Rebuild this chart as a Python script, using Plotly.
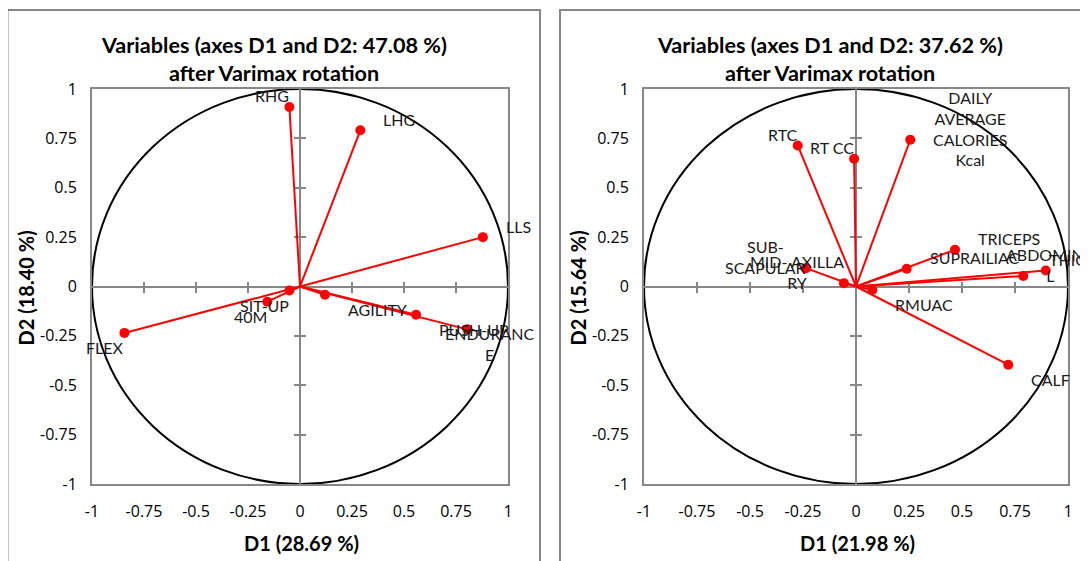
import plotly.graph_objects as go

# ---------------- data ----------------
left_vars = ["RHG", "LHG", "LLS", "FLEX", "SIT-UP", "40M", "AGILITY", "PUSH-UP", "ENDURANCE"]
left_d1 = [-0.051, 0.290, 0.879, -0.844, -0.051, -0.157, 0.120, 0.558, 0.805]
left_d2 = [0.909, 0.791, 0.250, -0.235, -0.020, -0.077, -0.042, -0.143, -0.217]
left_title = ["Variables (axes D1 and D2: 47.08 %)", "after Varimax rotation"]
left_xtitle = "D1 (28.69 %)"
left_ytitle = "D2 (18.40 %)"

right_vars = ["RTC", "RT CC", "DAILY AVERAGE CALORIES Kcal", "SUB-SCAPULAR", "MID-AXILLARY",
              "RMUAC", "SUPRAILIAC", "TRICEPS", "ABDOMINAL", "THIGH", "CALF"]
right_d1 = [-0.275, -0.009, 0.256, -0.236, -0.057, 0.077, 0.239, 0.467, 0.789, 0.895, 0.718]
right_d2 = [0.714, 0.647, 0.743, 0.093, 0.017, -0.017, 0.090, 0.186, 0.053, 0.081, -0.396]
right_title = ["Variables (axes D1 and D2: 37.62 %)", "after Varimax rotation"]
right_xtitle = "D1 (21.98 %)"
right_ytitle = "D2 (15.64 %)"

tick_vals = [-1, -0.75, -0.5, -0.25, 0, 0.25, 0.5, 0.75, 1]
tick_text = ["-1", "-0.75", "-0.5", "-0.25", "0", "0.25", "0.5", "0.75", "1"]
center_ticks = [-0.75, -0.5, -0.25, 0.25, 0.5, 0.75]

# label wrapping as in the original chart
label_wrap = {
    "ENDURANCE": "ENDURANC<br>E",
    "DAILY AVERAGE CALORIES Kcal": "DAILY<br>AVERAGE<br>CALORIES<br>Kcal",
    "SUB-SCAPULAR": "SUB-<br>SCAPULAR",
    "MID-AXILLARY": "MID- AXILLA<br>RY",
    "ABDOMINAL": "ABDOMINA<br>L",
}
# labels pushed back inside the panel (anchor, x shift in px)
label_override = {
    "ENDURANCE": ("center", 22),
    "ABDOMINAL": ("center", 27),
    "THIGH": ("left", 1),
}

# ---------------- style ----------------
# the page body has an 8px margin; figure fills the rest of the 1088x561 window
OFF = 8
W, H = 1088 - OFF, 561 - OFF
FONT = "Lato"
TICK_FONT = "Open Sans"
GRAY = "#878787"
RED = "#FF0000"
LBL_SIZE = 16
TICK_SIZE = 16
TITLE_SIZE = 21.6
AXT_SIZE = 20


def fx(v):  # window px -> paper x
    return (v - OFF) / W


def fy(v):  # window px -> paper y
    return 1 - (v - OFF) / H


panels = [
    dict(vars=left_vars, d1=left_d1, d2=left_d2, title=left_title, xt=left_xtitle, yt=left_ytitle,
         xa="x", ya="y", xdom=(92, 508), box=(7.5, 540), title_x=274, cx_ax=("x3", "x4"), cy_ax=("y3", "y4")),
    dict(vars=right_vars, d1=right_d1, d2=right_d2, title=right_title, xt=right_xtitle, yt=right_ytitle,
         xa="x2", ya="y2", xdom=(644, 1068), box=(560, 1093), title_x=830, cx_ax=("x5", "x6"), cy_ax=("y5", "y6")),
]
ydom = (fy(484), fy(89))
ycenter = (ydom[0] + ydom[1]) / 2

fig = go.Figure()
layout = dict(
    width=W, height=H, autosize=False,
    margin=dict(l=0, r=0, t=0, b=0, pad=0, autoexpand=False),
    paper_bgcolor="white", plot_bgcolor="white",
    showlegend=False,
    font=dict(family=FONT, size=TICK_SIZE, color="#000000"),
)
shapes = []
annotations = []

for p in panels:
    xa, ya = p["xa"], p["ya"]
    xkey = "xaxis" + xa[1:]
    ykey = "yaxis" + ya[1:]
    xdom = (fx(p["xdom"][0]), fx(p["xdom"][1]))
    xcenter = (xdom[0] + xdom[1]) / 2

    # vectors from origin
    lx, ly = [], []
    for a, b in zip(p["d1"], p["d2"]):
        lx += [0, a, None]
        ly += [0, b, None]
    fig.add_trace(go.Scatter(x=lx, y=ly, mode="lines", line=dict(color=RED, width=2),
                             xaxis=xa, yaxis=ya, hoverinfo="skip"))
    fig.add_trace(go.Scatter(x=p["d1"], y=p["d2"], mode="markers", text=p["vars"],
                             marker=dict(color=RED, size=10), xaxis=xa, yaxis=ya))

    # main axes (frame + tick labels)
    layout[xkey] = dict(domain=list(xdom), anchor=ya, range=[-1, 1], showgrid=False, zeroline=False,
                        showline=True, mirror=True, linecolor=GRAY, linewidth=2, ticks="",
                        tickvals=tick_vals, ticktext=tick_text, ticklabelstandoff=12, automargin=False,
                        tickfont=dict(family=TICK_FONT, size=TICK_SIZE, color="#000"))
    layout[ykey] = dict(domain=list(ydom), anchor=xa, range=[-1, 1], showgrid=False, zeroline=False,
                        showline=True, mirror=True, linecolor=GRAY, linewidth=2, ticks="",
                        tickvals=tick_vals, ticktext=tick_text, ticklabelstandoff=10, automargin=False,
                        tickfont=dict(family=TICK_FONT, size=TICK_SIZE, color="#000"))

    # centre axes with crossing ticks
    for i, (axn, tk) in enumerate(zip(p["cx_ax"], ["outside", "inside"])):
        layout["xaxis" + axn[1:]] = dict(overlaying=xa, anchor="free", position=ycenter, range=[-1, 1],
                                         showgrid=False, zeroline=False, showline=(i == 0),
                                         linecolor=GRAY, linewidth=2, ticks=tk, ticklen=5, tickwidth=2,
                                         tickcolor=GRAY, tickvals=center_ticks, showticklabels=False,
                                         layer="below traces", automargin=False)
        fig.add_trace(go.Scatter(x=[None], y=[None], xaxis=axn, yaxis=ya, hoverinfo="skip"))
    for i, (axn, tk) in enumerate(zip(p["cy_ax"], ["outside", "inside"])):
        layout["yaxis" + axn[1:]] = dict(overlaying=ya, anchor="free", position=xcenter, range=[-1, 1],
                                         showgrid=False, zeroline=False, showline=(i == 0),
                                         linecolor=GRAY, linewidth=2, ticks=tk, ticklen=5, tickwidth=2,
                                         tickcolor=GRAY, tickvals=center_ticks, showticklabels=False,
                                         layer="below traces", automargin=False)
        fig.add_trace(go.Scatter(x=[None], y=[None], xaxis=xa, yaxis=axn, hoverinfo="skip"))

    # correlation circle
    shapes.append(dict(type="circle", xref=xa, yref=ya, x0=-1, y0=-1, x1=1, y1=1,
                       line=dict(color="#000000", width=2), layer="between"))
    # panel border
    shapes.append(dict(type="rect", xref="paper", yref="paper",
                       x0=fx(p["box"][0]), x1=fx(p["box"][1]), y0=-0.2, y1=fy(10),
                       line=dict(color=GRAY, width=2), fillcolor="rgba(0,0,0,0)", layer="below"))

    # variable labels
    for name, a, b in zip(p["vars"], p["d1"], p["d2"]):
        if name in label_override:
            xanc, xsh = label_override[name]
        elif a >= 0:
            xanc, xsh = "left", 21
        else:
            xanc, xsh = "right", 2
        ysh = 11 if b >= 0 else -15
        annotations.append(dict(x=a, y=b, xref=xa, yref=ya, text=label_wrap.get(name, name),
                                showarrow=False, xanchor=xanc, yanchor="middle", xshift=xsh, yshift=ysh,
                                align="center", font=dict(family=FONT, size=LBL_SIZE, color="#1a1a1a")))

    # titles
    for line, ypx in zip(p["title"], (44.6, 73.2)):
        annotations.append(dict(x=fx(p["title_x"]), y=fy(ypx), xref="paper", yref="paper",
                                text="<b>" + line + "</b>", showarrow=False,
                                xanchor="center", yanchor="middle",
                                font=dict(family=FONT, size=TITLE_SIZE, color="#000")))
    # axis titles
    annotations.append(dict(x=xcenter + 1 / W, y=fy(543.3), xref="paper", yref="paper",
                            text="<b>" + p["xt"] + "</b>", showarrow=False,
                            xanchor="center", yanchor="middle",
                            font=dict(family=FONT, size=AXT_SIZE, color="#000")))
    annotations.append(dict(x=fx(p["xdom"][0] - 66), y=fy(288.4), xref="paper", yref="paper",
                            text="<b>" + p["yt"] + "</b>", showarrow=False, textangle=-90,
                            xanchor="center", yanchor="middle",
                            font=dict(family=FONT, size=AXT_SIZE, color="#000")))

layout["shapes"] = shapes
layout["annotations"] = annotations
fig.update_layout(**layout)
fig.write_html("out.html")
